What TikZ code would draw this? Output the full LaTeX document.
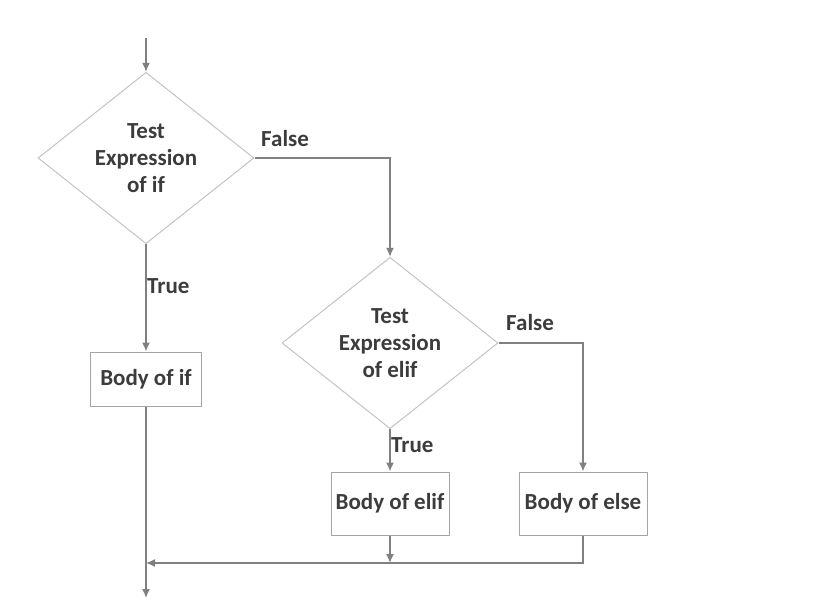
\documentclass[tikz,border=0pt]{standalone}
\usepackage{fontspec}
\setmainfont{Carlito}
\usetikzlibrary{shapes.geometric, arrows.meta}

\definecolor{linegray}{RGB}{128,128,128}
\definecolor{boxgray}{RGB}{165,165,165}
\definecolor{diagray}{RGB}{195,195,195}
\definecolor{textgray}{RGB}{60,60,60}

\begin{document}
\begin{tikzpicture}[x=1pt, y=-1pt, >={Latex[length=9pt,width=8pt]},
  test/.style={diamond, draw=diagray, line width=1pt, inner sep=0pt,
    minimum width=216pt, minimum height=167pt, align=center,
    text=textgray, font=\bfseries\fontsize{23}{27}\selectfont},
  body/.style={rectangle, draw=boxgray, line width=1pt, inner sep=2pt,
    minimum height=63pt, text=textgray, font=\bfseries\fontsize{23}{27}\selectfont},
  lbl/.style={anchor=west, inner sep=0pt, text=textgray,
    font=\bfseries\fontsize{23}{27}\selectfont},
  flow/.style={draw=linegray, line width=1.4pt}]

\useasboundingbox (0,0) rectangle (839,615);

% Entscheidungen
\coordinate (start) at (146,38);
\node[test] (testif) at (146,158) {Test\\Expression\\of if};
\node[test] (testelif) at (390,343) {Test\\Expression\\of elif};

% Rumpf
\node[body, minimum width=111pt, minimum height=54pt] (bodyif) at (146,379) {Body of if};
\node[body, minimum width=118pt] (bodyelif) at (390,503.5) {Body of elif};
\node[body, minimum width=128pt] (bodyelse) at (583,503.5) {Body of else};

\coordinate (merge) at (146,563);
\coordinate (stop) at (146,598);

% Beschriftungen
\node[lbl] (falseif) at (261,139) {False};
\node[lbl] (trueif) at (147,286) {True};
\node[lbl] (falseelif) at (506,323) {False};
\node[lbl] (trueelif) at (391,445) {True};

\draw[flow,->] (start) -- (testif.north);
\draw[flow,->] (testif.east) -| (testelif.north);
\draw[flow,->] (testif.south) -- (bodyif.north);
\draw[flow,->] (testelif.east) -| (bodyelse.north);
\draw[flow,->] (testelif.south) -- (bodyelif.north);
\draw[flow,->] (bodyif.south) -- (stop);
\draw[flow,->] (bodyelif.south) -- (bodyelif.south |- merge);
\draw[flow,->] (bodyelse.south) |- (merge);
\end{tikzpicture}
\end{document}
